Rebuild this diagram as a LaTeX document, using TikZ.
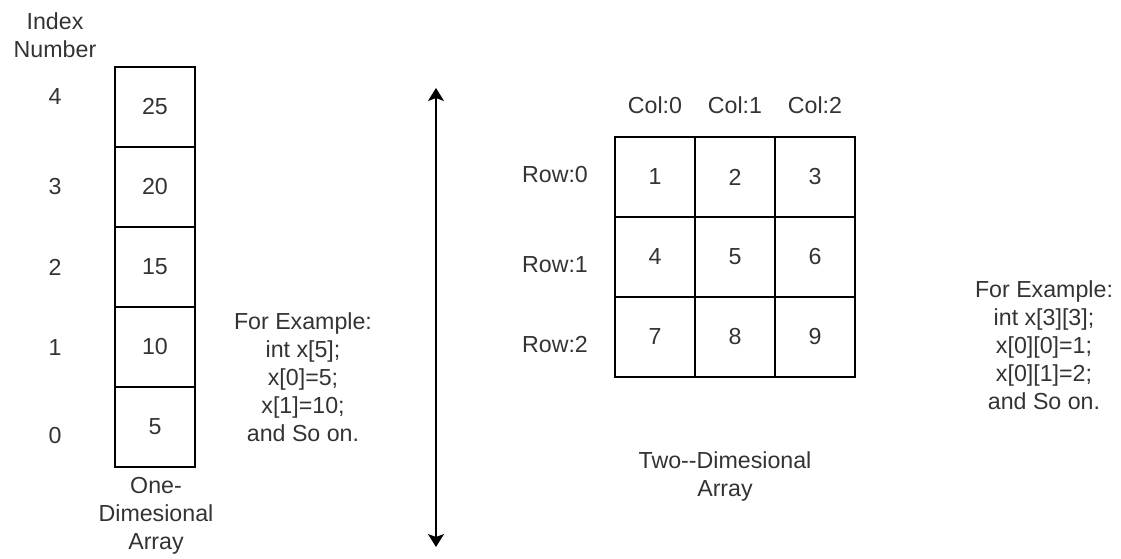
\documentclass[tikz,border=0pt]{standalone}
\usepackage{fontspec}
\setmainfont{Liberation Sans}
\usetikzlibrary{math,arrows.meta}
\definecolor{txtgray}{HTML}{333333}

\begin{document}
\begin{tikzpicture}[x=0.5pt,y=-0.5pt,>/.tip={Stealth[length=6.5pt,width=8pt,inset=1.5pt]},
    every node/.style={font=\fontsize{11.6pt}{14pt}\selectfont,text=txtgray,align=center,inner sep=0pt},
    cell/.style={draw=black,line width=0.65pt,minimum width=40pt,minimum height=40pt}]
    \useasboundingbox (0,0) rectangle (1121,558);
    % The one-dimensional array
    \tikzmath{\ax=155;\ix=55;}
    \node (title) at (\ix,35) {Index\\Number};
    \node[cell] (a4) at (\ax,107) {25};
    \node[cell] (a3) at (\ax,187) {20};
    \node[cell] (a2) at (\ax,267) {15};
    \node[cell] (a1) at (\ax,347) {10};
    \node[cell] (a0) at (\ax,427) {5};
    \node (i4) at (\ix,97) {4};
    \node (i3) at (\ix,187) {3};
    \node (i2) at (\ix,267) {2};
    \node (i1) at (\ix,348) {1};
    \node (i0) at (\ix,436) {0};
    \node (onecap) at (156,516) {One-\\Dimesional\\Array};
    \node (oneex) at (303,377) {For Example:\\int x[5];\\x[0]=5;\\x[1]=10;\\and So on.};
    % The separator
    \coordinate (sepup) at (436,88);
    \coordinate (sepdown) at (436,547);
    \draw[line width=0.65pt,<->] (sepup) -- (sepdown);
    % The two-dimensional array
    \tikzmath{\ca=655;\cb=735;\cc=815;\ra=177;\rb=257;\rc=337;}
    \node (col0) at (\ca,105) {Col:0};
    \node (col1) at (\cb,105) {Col:1};
    \node (col2) at (\cc,105) {Col:2};
    \node (row0) at (555,175) {Row:0};
    \node (row1) at (555,265) {Row:1};
    \node (row2) at (555,345) {Row:2};
    \node[cell] (m00) at (\ca,\ra) {1};
    \node[cell] (m01) at (\cb,\ra) {2};
    \node[cell] (m02) at (\cc,\ra) {3};
    \node[cell] (m10) at (\ca,\rb) {4};
    \node[cell] (m11) at (\cb,\rb) {5};
    \node[cell] (m12) at (\cc,\rb) {6};
    \node[cell] (m20) at (\ca,\rc) {7};
    \node[cell] (m21) at (\cb,\rc) {8};
    \node[cell] (m22) at (\cc,\rc) {9};
    \node (twocap) at (725,476) {Two-{}-Dimesional\\Array};
    \node (twoex) at (1044,345) {For Example:\\int x[3][3];\\x[0][0]=1;\\x[0][1]=2;\\and So on.};
\end{tikzpicture}
\end{document}
